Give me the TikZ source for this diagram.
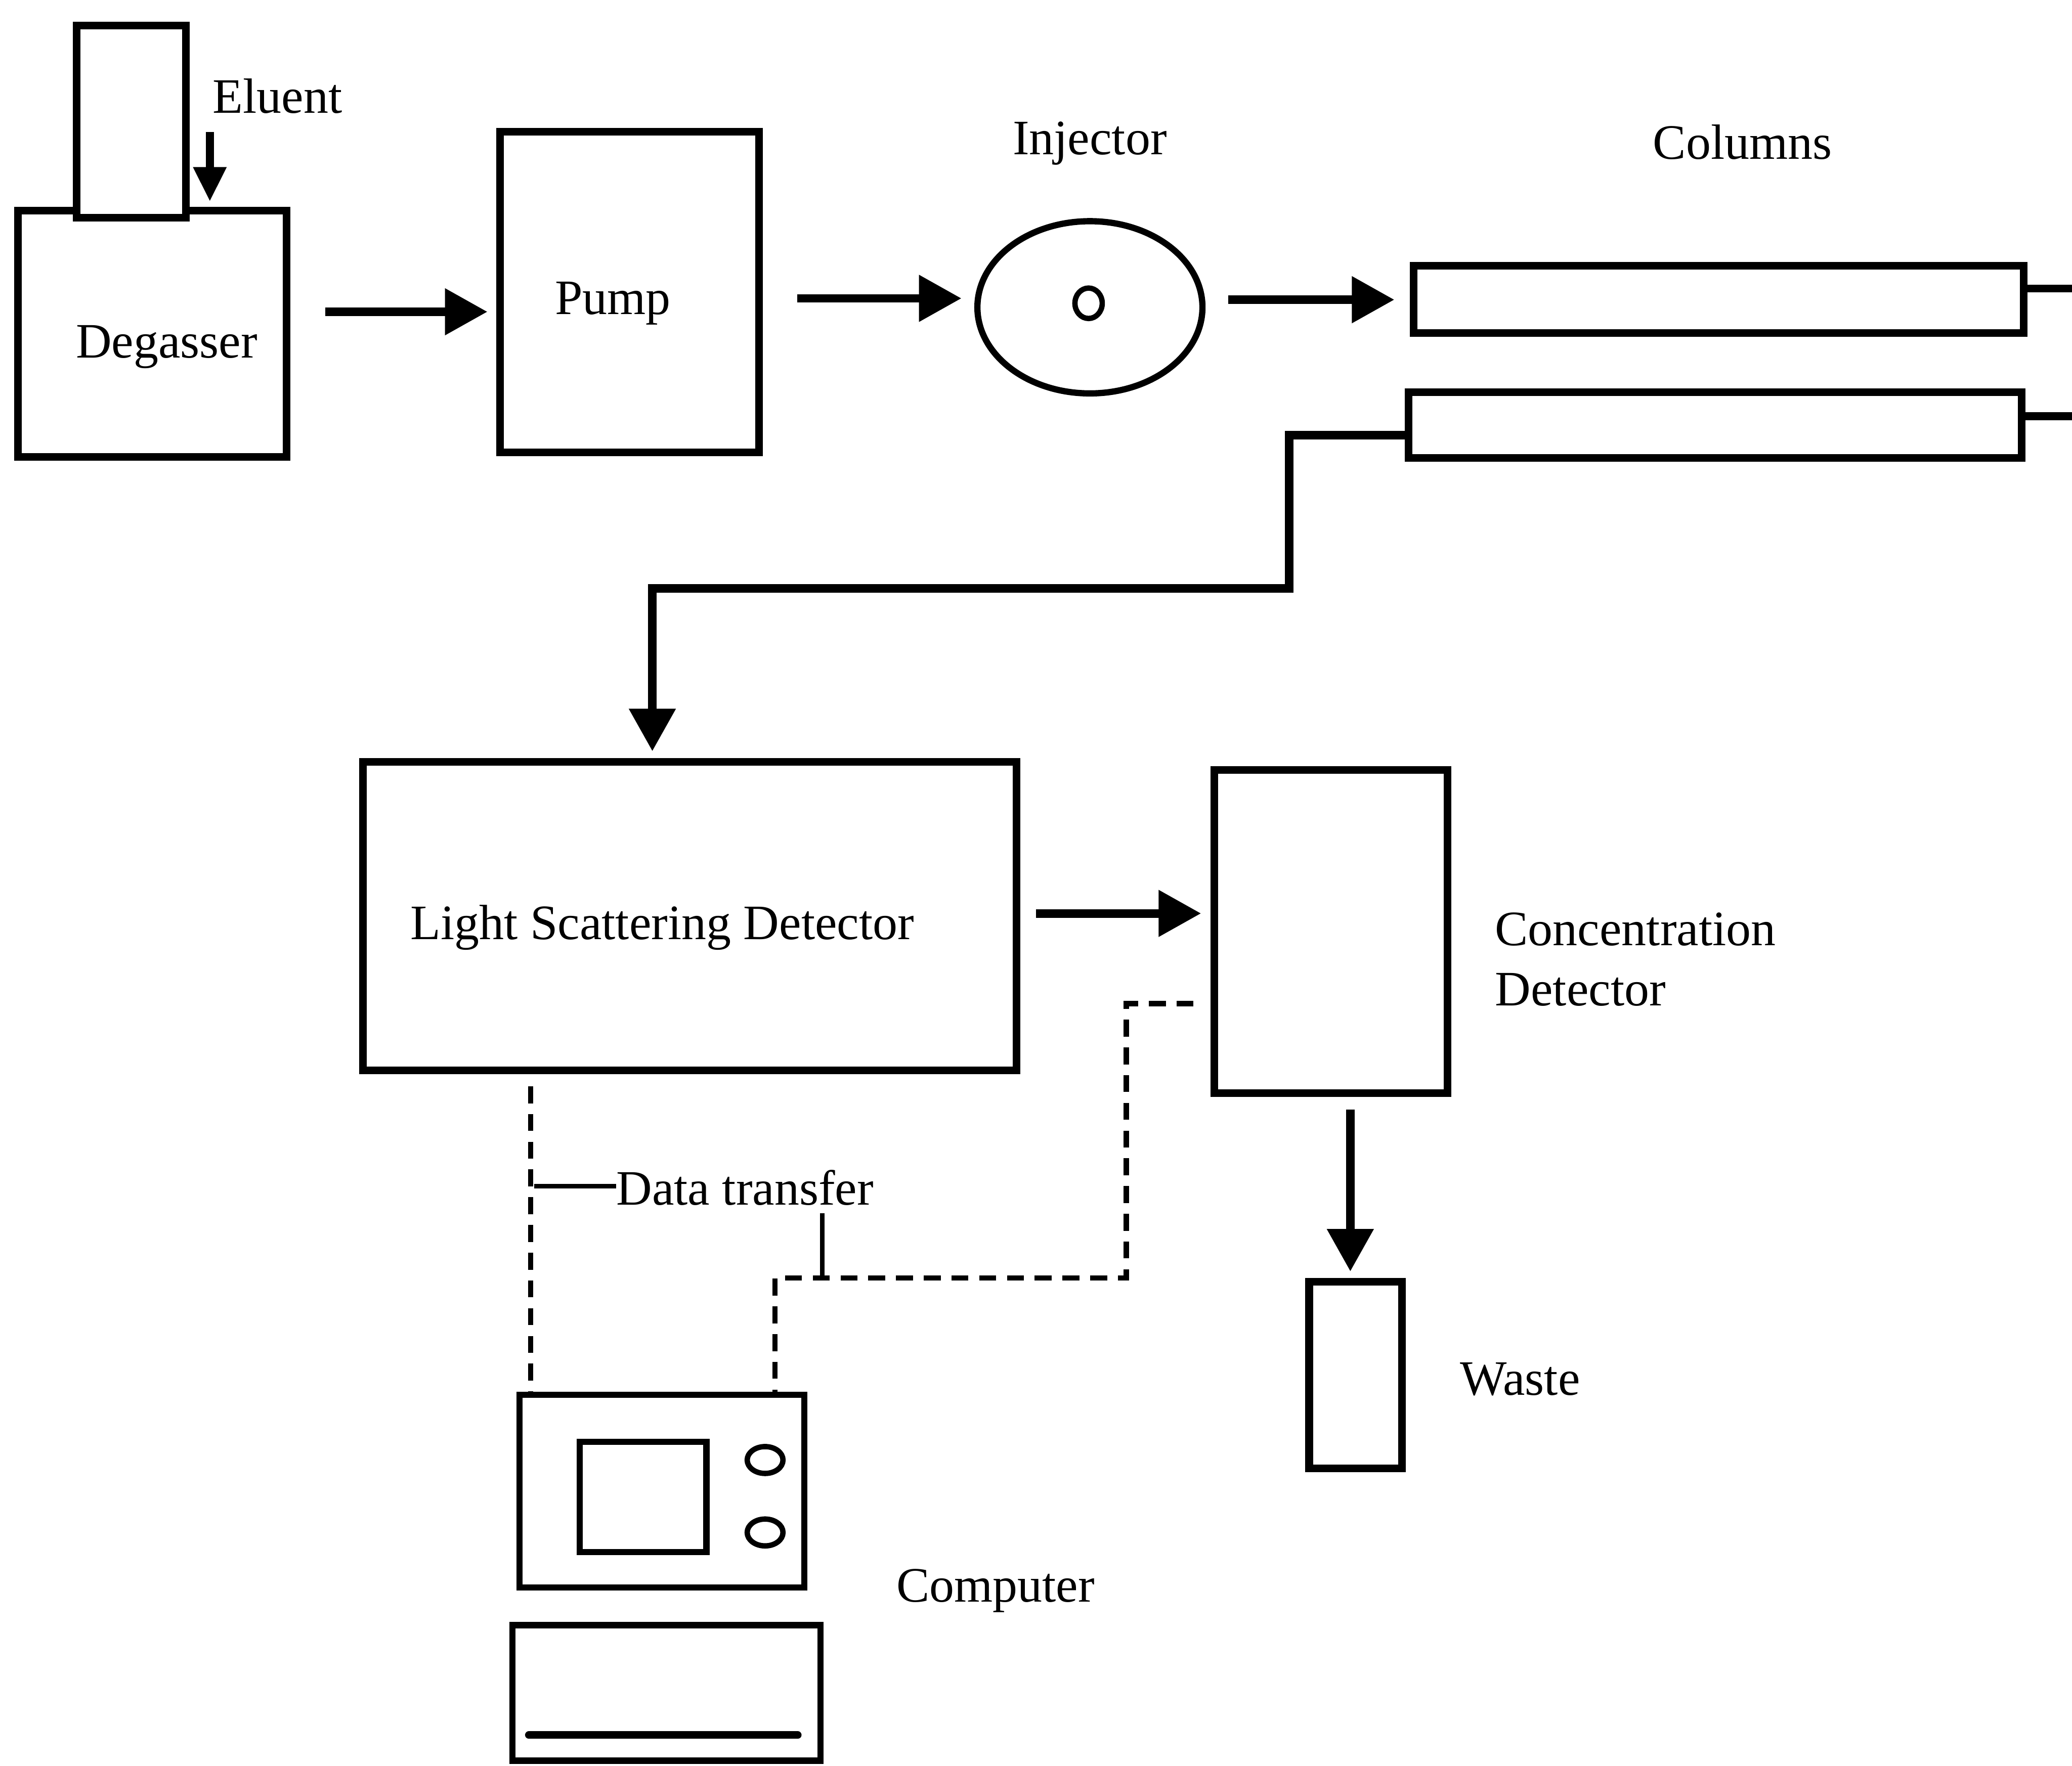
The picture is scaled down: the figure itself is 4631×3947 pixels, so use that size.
\documentclass[tikz,border=0pt]{standalone}
\usepackage{fontspec}
\setmainfont{Liberation Serif}
\usetikzlibrary{arrows.meta,fit,shapes.geometric,calc}
\begin{document}
\begin{tikzpicture}[x=0.1mm,y=-0.1mm,
  box/.style={draw, line width=1.7mm, inner sep=0pt, fill=white},
  thinbox/.style={draw, line width=1.4mm, inner sep=0pt},
  lbl/.style={anchor=base west, inner sep=0pt, font=\fontsize{31.5}{38}\selectfont},
  flow/.style={line width=1.9mm, -{Triangle[length=9.5mm,width=10mm]}},
  smallflow/.style={line width=1.8mm, -{Triangle[length=7.7mm,width=7mm]}},
  pipe/.style={line width=1.8mm},
  datal/.style={line width=1.2mm, dash pattern=on 3.8mm off 2.4mm},
  lead/.style={line width=1mm},
  knob/.style={draw, ellipse, line width=1.2mm, inner sep=0pt, minimum width=8mm, minimum height=6mm},
]
\fill[white] (0,0) rectangle (4631,3947);
\useasboundingbox (0,0) rectangle (4631,3947);

% helper coordinates
\coordinate (y697) at (0,697);
\coordinate (y667) at (0,667);
\coordinate (y670) at (0,670);
\coordinate (y973) at (0,973);
\coordinate (y2042) at (0,2042);
\coordinate (y2244) at (0,2244);
\coordinate (x3018) at (3018,0);
\coordinate (x1186) at (1186,0);

% degasser and eluent bottle
\node[box, fit={(40,471) (641,1022)}] (deg) {};
\node[box, fit={(171,57) (416,487)}] (bottle) {};
\node[lbl] (degtxt) at (169,800) {Degasser};
\node[lbl] (eltxt) at (475,253) {Eluent};
\coordinate (elstart) at (469,295);
\draw[smallflow, shorten >=1.2mm] (elstart) -- (elstart |- deg.north);

% pump
\node[box, fit={(1118,294) (1696,1011)}] (pump) {};
\node[lbl] (pumptxt) at (1240,703) {Pump};

% injector
\node[draw, ellipse, line width=1.4mm, inner sep=0pt, minimum width=50.3mm, minimum height=38.5mm] (inj) at (2436,687) {};
\node[draw, ellipse, line width=1.2mm, inner sep=0pt, minimum width=6.1mm, minimum height=6.8mm] (port) at (2433,678) {};
\node[lbl] (injtxt) at (2263,345) {Injector};

% columns
\node[box, fit={(3159,594) (4523,745)}] (col1) {};
\node[box, fit={(3148,877) (4518,1024)}] (col2) {};
\node[lbl] (coltxt) at (3694,355) {Columns};

% flow arrows top row
\draw[flow, shorten <=7.7mm, shorten >=2mm] (deg.east |- y697) -- (pump.west |- y697);
\draw[flow, shorten <=7.7mm, shorten >=2.85mm] (pump.east |- y667) -- (inj.west |- y667);
\draw[flow, shorten <=5.1mm, shorten >=3.4mm] (inj.east |- y670) -- (col1.west |- y670);

\coordinate (e1) at (4640,645);
\coordinate (e2) at (4640,930);
\draw[pipe] (col1.east |- e1) -- (e1);
\draw[pipe] (col2.east |- e2) -- (e2);

% detectors
\node[box, fit={(811,1703) (2272,2393)}] (lsd) {};
\node[lbl] (lsdtxt) at (917,2100) {Light Scattering Detector};
\node[box, fit={(2714,1721) (3235,2444)}] (conc) {};
\node[lbl] (conctxt1) at (3341,2114) {Concentration};
\node[lbl] (conctxt2) at (3341,2248) {Detector};
\node[box, fit={(2926,2866) (3133,3283)}] (waste) {};
\node[lbl] (wastetxt) at (3263,3119) {Waste};

\coordinate (p1) at (2881,1315);
\coordinate (p2) at (1458,1315);
\draw[flow, shorten >=1.5mm] (col2.west |- y973) -| (p1) -- (p2) -- (lsd.north -| p2);
\draw[flow, shorten <=3.5mm, shorten >=2.1mm] (lsd.east |- y2042) -- (conc.west |- y2042);
\draw[flow, shorten <=2.8mm, shorten >=1.5mm] (conc.south -| x3018) -- (waste.north -| x3018);

% computer
\node[thinbox, fit={(1161,3118) (1798,3549)}] (mon) {};
\node[thinbox, fit={(1296,3223) (1579,3470)}] (screen) {};
\node[knob] (k1) at (1710,3264) {};
\node[knob] (k2) at (1710,3426) {};
\node[thinbox, fit={(1145,3633) (1834,3936)}] (kbd) {};
\draw[line width=1.7mm, line cap=round] (1182,3879) -- (1783,3879);
\node[lbl] (comptxt) at (2003,3581) {Computer};

% data transfer lines
\draw[datal, shorten <=2.7mm] (lsd.south -| x1186) -- (mon.north -| x1186);
\coordinate (d1) at (2517,2857);
\coordinate (d2) at (1732,2857);
\draw[datal, shorten <=3.8mm] (conc.west |- y2244) -| (d1) -- (d2) -- (mon.north -| d2);

\node[lbl] (dttxt) at (1377,2694) {Data transfer};
\coordinate (dl) at (1194,2652);
\draw[lead] (dttxt.west |- dl) -- (dl);
\coordinate (dv) at (1838,2852);
\draw[lead, shorten <=1.6mm] (dv |- dttxt.south) -- (dv);
\end{tikzpicture}
\end{document}
